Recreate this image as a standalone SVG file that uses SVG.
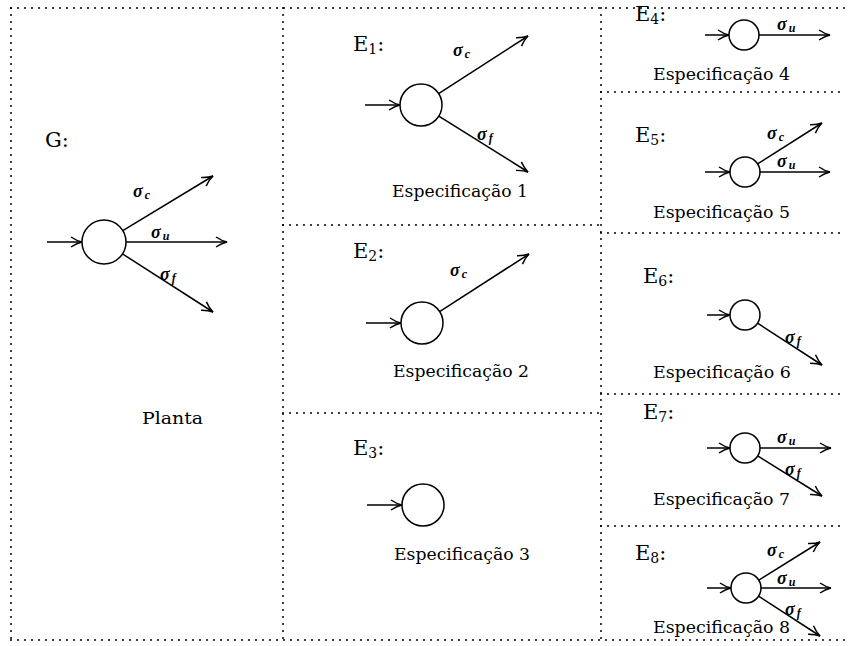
<svg xmlns="http://www.w3.org/2000/svg" width="852" height="646" viewBox="0 0 852 646">
<style>
.dot{stroke:#000;stroke-width:2;stroke-dasharray:0 7;stroke-linecap:round;fill:none}
.st{fill:#fff;stroke:#000;stroke-width:1.5}
.ar{stroke:#000;stroke-width:1.5;fill:none;marker-end:url(#ah)}
.lab{font-family:"DejaVu Serif","Liberation Serif",serif;font-size:21px;fill:#000}
.sub{font-size:14px}
.sg{font-family:"Liberation Serif",serif;font-style:italic;font-weight:bold;font-size:18px;fill:#000}
.sgs{font-size:12px}
.spec{font-family:"DejaVu Serif","Liberation Serif",serif;font-size:16px;fill:#000}
</style>
<defs>
<marker id="ah" markerUnits="userSpaceOnUse" markerWidth="16" markerHeight="14" viewBox="-12 -7 14 14" refX="0" refY="0" orient="auto" overflow="visible">
<path d="M-11,-5 Q-5,-1 0,0 Q-5,1 -11,5" stroke="#000" stroke-width="1.5" fill="none"/>
</marker>
</defs>
<g id="frame">
<line class="dot" x1="11" y1="8" x2="845" y2="8"/>
<line class="dot" x1="11" y1="640" x2="845" y2="640"/>
<line class="dot" x1="11" y1="8" x2="11" y2="640"/>
<line class="dot" x1="283" y1="8" x2="283" y2="640"/>
<line class="dot" x1="601" y1="8" x2="601" y2="640"/>
<line class="dot" x1="283" y1="225" x2="601" y2="225"/>
<line class="dot" x1="283" y1="413" x2="601" y2="413"/>
<line class="dot" x1="601" y1="92" x2="845" y2="92"/>
<line class="dot" x1="601" y1="233" x2="845" y2="233"/>
<line class="dot" x1="601" y1="394" x2="845" y2="394"/>
<line class="dot" x1="601" y1="526" x2="845" y2="526"/>
</g>
<g id="connectors">
<line class="ar" x1="47" y1="242" x2="82" y2="242"/>
<line class="ar" x1="122.8" y1="230.6" x2="213" y2="176"/>
<line class="ar" x1="126" y1="242" x2="227" y2="242"/>
<line class="ar" x1="122.5" y1="253.9" x2="213" y2="312"/>
<line class="ar" x1="365" y1="105" x2="400" y2="105"/>
<line class="ar" x1="438.6" y1="93.6" x2="528" y2="36"/>
<line class="ar" x1="438.8" y1="116.1" x2="528" y2="172"/>
<line class="ar" x1="366" y1="323" x2="401" y2="323"/>
<line class="ar" x1="439.6" y1="311.6" x2="529" y2="254"/>
<line class="ar" x1="367" y1="505" x2="402" y2="505"/>
<line class="ar" x1="705" y1="35" x2="729" y2="35"/>
<line class="ar" x1="759" y1="35" x2="830" y2="35"/>
<line class="ar" x1="705" y1="172" x2="730" y2="172"/>
<line class="ar" x1="757.6" y1="163.9" x2="822" y2="123"/>
<line class="ar" x1="760" y1="172" x2="830" y2="172"/>
<line class="ar" x1="707" y1="315" x2="730" y2="315"/>
<line class="ar" x1="757.6" y1="323.2" x2="822" y2="365"/>
<line class="ar" x1="707" y1="448" x2="730" y2="448"/>
<line class="ar" x1="760" y1="448" x2="831" y2="448"/>
<line class="ar" x1="757.7" y1="455.9" x2="822" y2="496"/>
<line class="ar" x1="707" y1="588" x2="731" y2="588"/>
<line class="ar" x1="758.7" y1="580.1" x2="820" y2="542"/>
<line class="ar" x1="761" y1="588" x2="831" y2="588"/>
<line class="ar" x1="758.6" y1="596.2" x2="820" y2="636"/>
</g>
<g id="G">
<text class="lab" x="45" y="147">G:</text>
<circle class="st" cx="104" cy="242" r="22"/>
<text class="sg" x="133" y="197">σ<tspan class="sgs" dx="2" dy="2">c</tspan></text>
<text class="sg" x="151" y="238">σ<tspan class="sgs" dx="2" dy="2">u</tspan></text>
<text class="sg" x="160" y="280">σ<tspan class="sgs" dx="2" dy="2">f</tspan></text>
<text class="spec" x="142" y="424" textLength="61" lengthAdjust="spacingAndGlyphs">Planta</text>
</g>
<g id="E1">
<text class="lab" x="353" y="51">E<tspan class="sub" dy="3">1</tspan><tspan dy="-3">:</tspan></text>
<circle class="st" cx="421" cy="105" r="21"/>
<text class="sg" x="453" y="56">σ<tspan class="sgs" dx="2" dy="2">c</tspan></text>
<text class="sg" x="477" y="140">σ<tspan class="sgs" dx="2" dy="2">f</tspan></text>
<text class="spec" x="392" y="197" textLength="136" lengthAdjust="spacingAndGlyphs">Especificação 1</text>
</g>
<g id="E2">
<text class="lab" x="353" y="258">E<tspan class="sub" dy="3">2</tspan><tspan dy="-3">:</tspan></text>
<circle class="st" cx="422" cy="323" r="21"/>
<text class="sg" x="450" y="276">σ<tspan class="sgs" dx="2" dy="2">c</tspan></text>
<text class="spec" x="393" y="377" textLength="136" lengthAdjust="spacingAndGlyphs">Especificação 2</text>
</g>
<g id="E3">
<text class="lab" x="353" y="455">E<tspan class="sub" dy="3">3</tspan><tspan dy="-3">:</tspan></text>
<circle class="st" cx="423" cy="505" r="21"/>
<text class="spec" x="394" y="560" textLength="136" lengthAdjust="spacingAndGlyphs">Especificação 3</text>
</g>
<g id="E4">
<text class="lab" x="635" y="21">E<tspan class="sub" dy="3">4</tspan><tspan dy="-3">:</tspan></text>
<circle class="st" cx="744" cy="35" r="15"/>
<text class="sg" x="777" y="30">σ<tspan class="sgs" dx="2" dy="2">u</tspan></text>
<text class="spec" x="653" y="80" textLength="137" lengthAdjust="spacingAndGlyphs">Especificação 4</text>
</g>
<g id="E5">
<text class="lab" x="635" y="142">E<tspan class="sub" dy="3">5</tspan><tspan dy="-3">:</tspan></text>
<circle class="st" cx="745" cy="172" r="15"/>
<text class="sg" x="767" y="139">σ<tspan class="sgs" dx="2" dy="2">c</tspan></text>
<text class="sg" x="777" y="167">σ<tspan class="sgs" dx="2" dy="2">u</tspan></text>
<text class="spec" x="653" y="218" textLength="137" lengthAdjust="spacingAndGlyphs">Especificação 5</text>
</g>
<g id="E6">
<text class="lab" x="643" y="283">E<tspan class="sub" dy="3">6</tspan><tspan dy="-3">:</tspan></text>
<circle class="st" cx="745" cy="315" r="15"/>
<text class="sg" x="785" y="343">σ<tspan class="sgs" dx="2" dy="2">f</tspan></text>
<text class="spec" x="653" y="378" textLength="138" lengthAdjust="spacingAndGlyphs">Especificação 6</text>
</g>
<g id="E7">
<text class="lab" x="643" y="419">E<tspan class="sub" dy="3">7</tspan><tspan dy="-3">:</tspan></text>
<circle class="st" cx="745" cy="448" r="15"/>
<text class="sg" x="777" y="443">σ<tspan class="sgs" dx="2" dy="2">u</tspan></text>
<text class="sg" x="785" y="475">σ<tspan class="sgs" dx="2" dy="2">f</tspan></text>
<text class="spec" x="653" y="505" textLength="137" lengthAdjust="spacingAndGlyphs">Especificação 7</text>
</g>
<g id="E8">
<text class="lab" x="635" y="560">E<tspan class="sub" dy="3">8</tspan><tspan dy="-3">:</tspan></text>
<circle class="st" cx="746" cy="588" r="15"/>
<text class="sg" x="767" y="556">σ<tspan class="sgs" dx="2" dy="2">c</tspan></text>
<text class="sg" x="777" y="584">σ<tspan class="sgs" dx="2" dy="2">u</tspan></text>
<text class="sg" x="785" y="615">σ<tspan class="sgs" dx="2" dy="2">f</tspan></text>
<text class="spec" x="653" y="633" textLength="137" lengthAdjust="spacingAndGlyphs">Especificação 8</text>
</g>
</svg>
